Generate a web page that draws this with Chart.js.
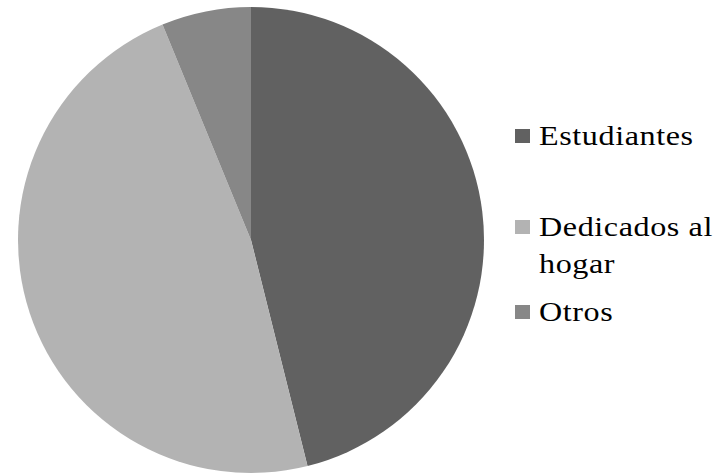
<!DOCTYPE html>
<html>
<head>
<meta charset="utf-8">
<script src="https://cdn.jsdelivr.net/npm/chart.js@4"></script>
<style>
    body { margin: 0; background: #fff; }
    #wrap { position: relative; width: 719px; height: 476px; }
    #chartBox { position: absolute; left: 0; top: 0; width: 502px; height: 476px; }
    #legend { position: absolute; left: 515px; top: 0; font-family: "Liberation Serif", "Times New Roman", serif; font-size: 27px; letter-spacing: 0.5px; color: #000; }
    .item { position: absolute; left: 0; white-space: nowrap; line-height: 37px; }
    .box { position: absolute; left: 0; top: 11px; width: 15px; height: 14px; }
    .txt { position: absolute; left: 24px; top: 0; transform: scaleX(1.19); transform-origin: left top; }
</style>
</head>
<body>
<div id="wrap">
    <div id="chartBox"><canvas id="pieChart"></canvas></div>
    <div id="legend"></div>
</div>
<script>
const categories = ['Estudiantes', 'Dedicados al hogar', 'Otros'];
const legendLines = [['Estudiantes'], ['Dedicados al', 'hogar'], ['Otros']];
const shares = [46.1, 47.7, 6.2];
const colors = ['#616161', '#b3b3b3', '#878787'];
const legendTops = [118, 209, 294];

document.addEventListener('DOMContentLoaded', () => {
    const ctx = document.getElementById('pieChart').getContext('2d');

    new Chart(ctx, {
        type: 'pie',
        data: {
            labels: categories,
            datasets: [{
                data: shares,
                backgroundColor: colors,
                borderWidth: 0
            }]
        },
        options: {
            responsive: true,
            maintainAspectRatio: false,
            animation: false,
            layout: { padding: { left: 18, right: 18, top: 7, bottom: 3 } },
            plugins: {
                legend: { display: false },
                tooltip: { enabled: false }
            }
        }
    });

    // legend drawn as html so the long label can wrap like the original
    const legend = document.getElementById('legend');
    categories.forEach((cat, i) => {
        const item = document.createElement('div');
        item.className = 'item';
        item.style.top = legendTops[i] + 'px';
        const box = document.createElement('div');
        box.className = 'box';
        box.style.background = colors[i];
        const txt = document.createElement('div');
        txt.className = 'txt';
        txt.innerHTML = legendLines[i].join('<br>');
        item.appendChild(box);
        item.appendChild(txt);
        legend.appendChild(item);
    });
});
</script>
</body>
</html>
